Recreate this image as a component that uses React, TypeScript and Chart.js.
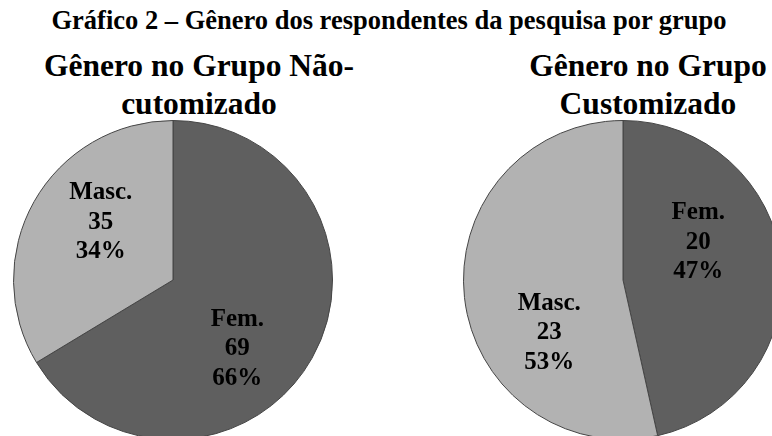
import React, { useEffect, useRef } from 'react';
import { Chart, registerables } from 'chart.js';

Chart.register(...registerables);

const mainTitle = 'Gráfico 2 – Gênero dos respondentes da pesquisa por grupo';
const leftTitleLines = ['Gênero no Grupo Não-', 'cutomizado'];
const rightTitleLines = ['Gênero no Grupo', 'Customizado'];
const genderCategories = ['Fem.', 'Masc.'];
const naoCustomizadoValues = [69, 35];
const customizadoValues = [20, 23];
const sliceColors = ['#5f5f5f', '#b2b2b2'];

const FONT = '"Liberation Serif", "Times New Roman", Times, serif';

type Placement = { shift: number; frac: number };

function makeLabelPlugin(placement: Placement[]) {
  return {
    id: 'sliceLabels',
    afterDatasetsDraw(chart: any) {
      const ds = chart.data.datasets[0];
      const values: number[] = ds.data as number[];
      const total = values.reduce((a, b) => a + b, 0);
      const meta = chart.getDatasetMeta(0);
      const ctx: CanvasRenderingContext2D = chart.ctx;
      ctx.save();
      ctx.font = `bold 25px ${FONT}`;
      ctx.fillStyle = '#000000';
      ctx.textAlign = 'center';
      ctx.textBaseline = 'alphabetic';
      const lineHeight = 29.5;
      meta.data.forEach((arc: any, i: number) => {
        const p = arc.getProps(['x', 'y', 'startAngle', 'endAngle', 'outerRadius'], true);
        const pl = placement[i];
        const a = (p.startAngle + p.endAngle) / 2 + (pl.shift * Math.PI) / 180;
        const r = p.outerRadius * pl.frac;
        const cx = p.x + Math.cos(a) * r;
        const cy = p.y + Math.sin(a) * r;
        const v = values[i];
        const lines = [String(chart.data.labels[i]), String(v), Math.round((v / total) * 100) + '%'];
        lines.forEach((t, k) => {
          ctx.fillText(t, cx, cy + 9 + (k - 1) * lineHeight);
        });
      });
      ctx.restore();
    },
  };
}

function PieCanvas(props: { values: number[]; placement: Placement[]; left: number; top: number; size: number }) {
  const ref = useRef<HTMLCanvasElement | null>(null);
  useEffect(() => {
    if (!ref.current) return;
    const chart = new Chart(ref.current, {
      type: 'pie',
      data: {
        labels: genderCategories,
        datasets: [
          {
            data: props.values,
            backgroundColor: sliceColors,
            borderColor: '#454545',
            borderWidth: 1,
          },
        ],
      },
      options: {
        responsive: false,
        animation: false,
        layout: { padding: 0 },
        plugins: {
          legend: { display: false },
          tooltip: { enabled: false },
          title: { display: false },
        },
      },
      plugins: [makeLabelPlugin(props.placement)],
    });
    return () => chart.destroy();
  }, []);
  return (
    <div style={{ position: 'absolute', left: props.left, top: props.top, width: props.size, height: props.size }}>
      <canvas ref={ref} width={props.size} height={props.size} style={{ display: 'block' }} />
    </div>
  );
}

const titleStyle: React.CSSProperties = {
  position: 'absolute',
  fontFamily: FONT,
  fontWeight: 'bold',
  color: '#000',
  textAlign: 'center',
  whiteSpace: 'nowrap',
};

export default function App() {
  return (
    <div
      style={{
        position: 'absolute',
        left: 0,
        top: 0,
        width: 772,
        height: 436,
        overflow: 'hidden',
        background: '#ffffff',
      }}
    >
      <div style={{ ...titleStyle, left: 0, top: 5, width: 778, fontSize: 26.5, lineHeight: '30px' }}>{mainTitle}</div>
      <div style={{ ...titleStyle, left: -1, top: 47, width: 400, fontSize: 31.5, lineHeight: '38px' }}>
        {leftTitleLines.map((l, i) => (
          <div key={i}>{l}</div>
        ))}
      </div>
      <div style={{ ...titleStyle, left: 448, top: 47, width: 400, fontSize: 31.5, lineHeight: '38px' }}>
        {rightTitleLines.map((l, i) => (
          <div key={i}>{l}</div>
        ))}
      </div>
      <PieCanvas
        values={naoCustomizadoValues}
        placement={[
          { shift: 16.5, frac: 0.58 },
          { shift: 10.4, frac: 0.59 },
        ]}
        left={13}
        top={120}
        size={320}
      />
      <PieCanvas
        values={customizadoValues}
        placement={[
          { shift: -21.8, frac: 0.535 },
          { shift: -28.1, frac: 0.56 },
        ]}
        left={463}
        top={120}
        size={320}
      />
    </div>
  );
}
